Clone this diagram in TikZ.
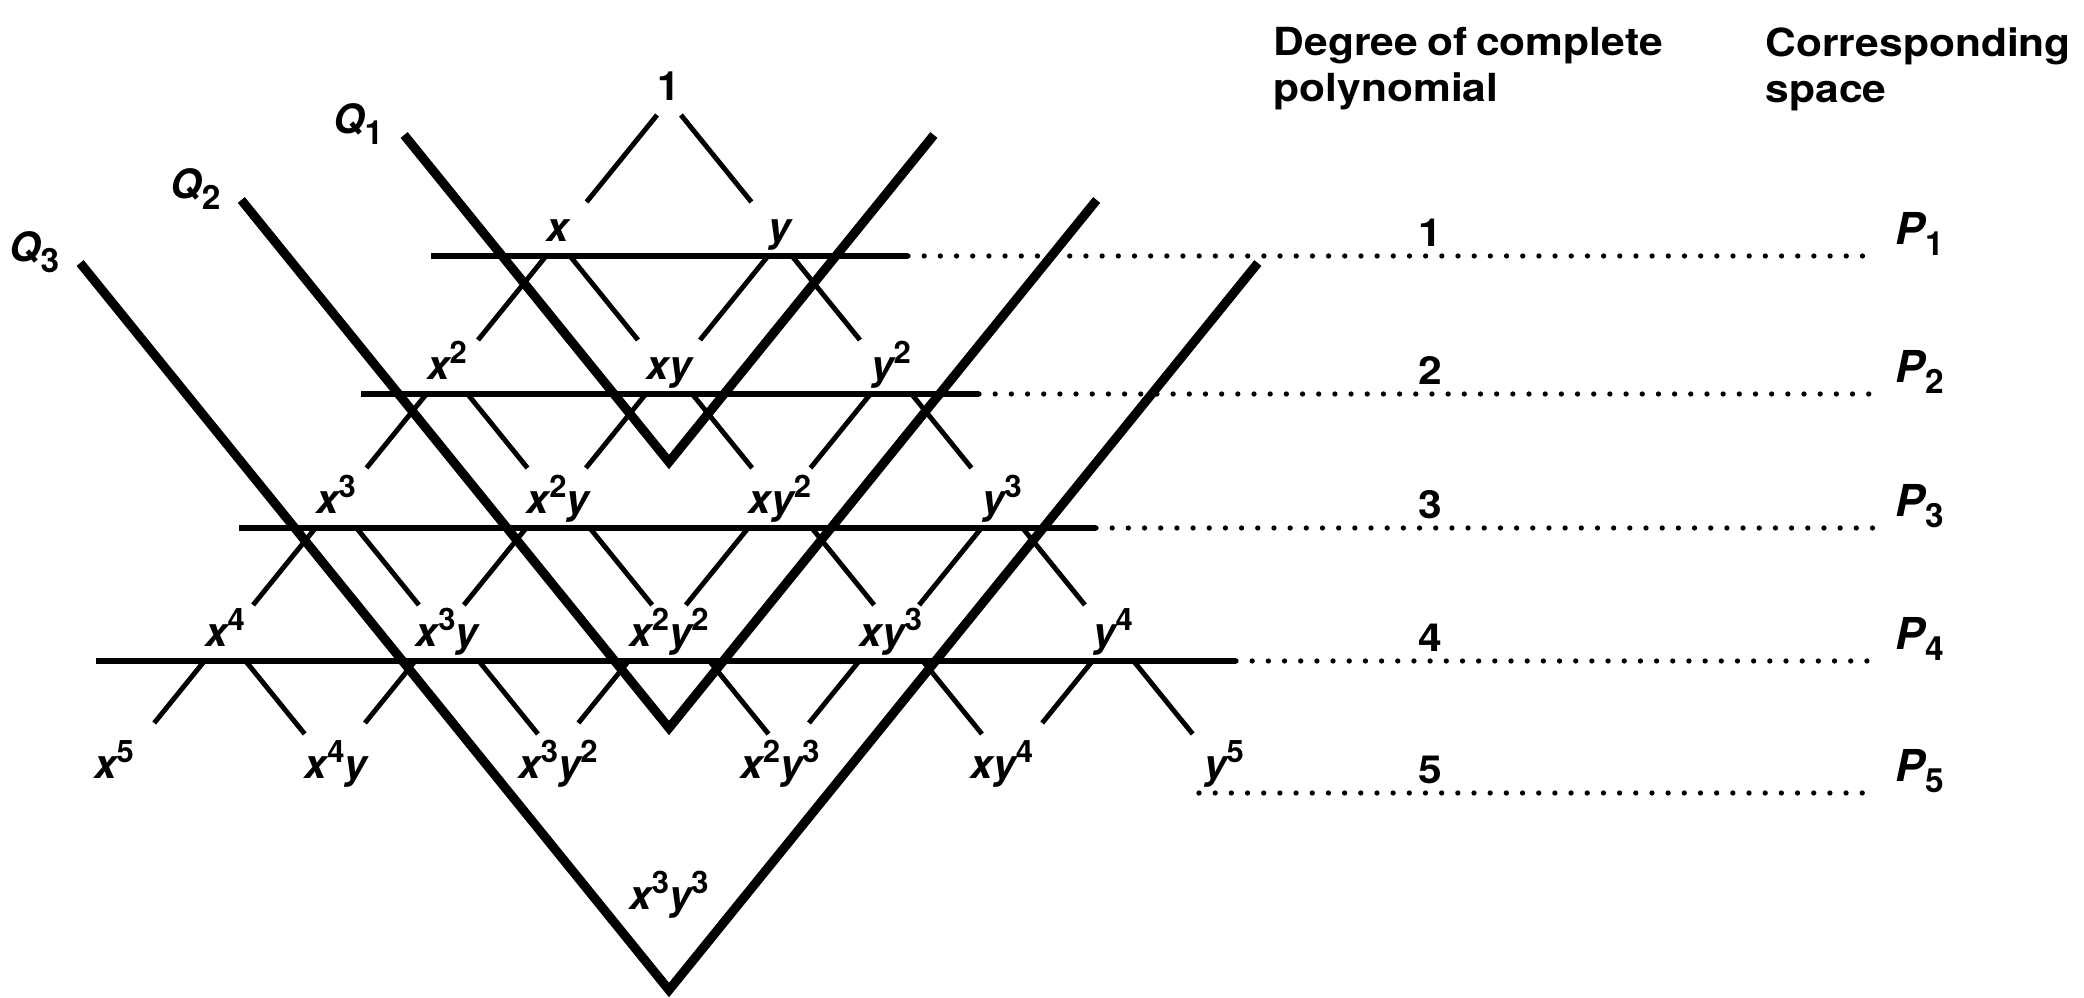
\documentclass[tikz,border=0pt]{standalone}
\usepackage{fontspec}
\setmainfont{TeX Gyre Heros}
\newfontfamily\headfont[FakeStretch=1.1, WordSpace=0.75]{TeX Gyre Heros}
\usetikzlibrary{calc}

% raised exponent and lowered index, both upright
\newcommand{\pw}[1]{\raisebox{4.8pt}{\fontsize{8.8}{9}\selectfont\upshape #1}}
\newcommand{\lowidx}[1]{\raisebox{-3pt}{\fontsize{9.5}{10}\selectfont\upshape #1}}
% monomial x^a y^b
\newcommand{\monom}[2]{%
  \ifnum#1>0 x\ifnum#1>1 \pw{#1}\fi\fi
  \ifnum#2>0 y\ifnum#2>1 \pw{#2}\fi\fi}

\begin{document}
\begin{tikzpicture}[x=0.01cm, y=-0.01cm,
    mono/.style={inner sep=0pt, font=\fontsize{11.5}{13}\selectfont\bfseries\itshape},
    head/.style={inner sep=0pt, align=left, font=\headfont\fontsize{11}{13}\selectfont\bfseries},
    link/.style={line width=1.4pt},
    level/.style={line width=1.6pt},
    dots/.style={line width=1.5pt, line cap=round, dash pattern=on 0pt off 4.6pt},
    qline/.style={line width=2.6pt}]

    \useasboundingbox (0,0) rectangle (2084,998);

    % ---------------------------------------------------
    % Monomials (Pascal triangle)
    % ---------------------------------------------------
    \node[mono, anchor=base] (m00) at (669,101) {\upshape 1};
    \foreach \k/\ly in {1/256, 2/394, 3/528, 4/661, 5/793} {
        \foreach \j in {0,...,\k} {
            \pgfmathtruncatemacro{\a}{\k-\j}
            \node[mono, anchor=base] (m\k\j) at ({669+(2*\j-\k)*111}, \ly-14) {\monom{\a}{\j}};
        }
    }
    \node[mono, anchor=base] (m63) at (669,910) {\monom{3}{3}};

    % ---------------------------------------------------
    % Short links between rows
    % ---------------------------------------------------
    \foreach \k/\dl/\dr in {0/87/87, 1/84/84, 2/74/74, 3/77/77, 4/62/73} {
        \foreach \j in {0,...,\k} {
            \draw[link] ($(m\k\j.base west)+(0,14)$) -- ++({-0.81*\dl},\dl);
            \draw[link] ($(m\k\j.base east)+(0,14)$) -- ++({0.81*\dr},\dr);
        }
    }

    % ---------------------------------------------------
    % Degree levels
    % ---------------------------------------------------
    \foreach \k/\ly/\xl/\xr in {1/256/431/908, 2/394/361/979, 3/528/239/1096, 4/661/96/1236} {
        \coordinate (l\k) at (\xl,\ly);
        \coordinate (r\k) at (\xr,\ly);
        \draw[level] (l\k) -- (r\k);
    }
    \coordinate (r5) at (1199,793);
    \foreach \k/\ly in {1/256, 2/394, 3/528, 4/661, 5/793} {
        \coordinate (e\k) at (1878,\ly);
        \draw[dots] (r\k) -- (e\k);
        \node[head, anchor=base] (deg\k) at (1430,\ly-9) {\k};
        \node[mono, anchor=base west, font=\fontsize{12.5}{14}\selectfont\bfseries\itshape]
            (sp\k) at (1895,\ly-11) {P\lowidx{\k}};
    }

    % ---------------------------------------------------
    % Spaces Q_1, Q_2, Q_3
    % ---------------------------------------------------
    \foreach \q/\t/\b in {1/135/462, 2/200/728, 3/263/990} {
        \pgfmathsetmacro{\w}{0.81*(\b-\t)}
        \coordinate (ql\q) at (669-\w,\t);
        \coordinate (qb\q) at (669,\b);
        \coordinate (qr\q) at (669+\w,\t);
        \draw[qline] (ql\q) -- (qb\q) -- (qr\q);
        \node[mono] (qlab\q) at ($(ql\q)+(-46,-11)$) {Q\lowidx{\q}};
    }

    % ---------------------------------------------------
    % Headings
    % ---------------------------------------------------
    \node[head, anchor=north west] (hdeg) at (1273,27) {Degree of complete\\polynomial};
    \node[head, anchor=north west] (hsp) at (1765,27) {Corresponding\\space};

\end{tikzpicture}
\end{document}
